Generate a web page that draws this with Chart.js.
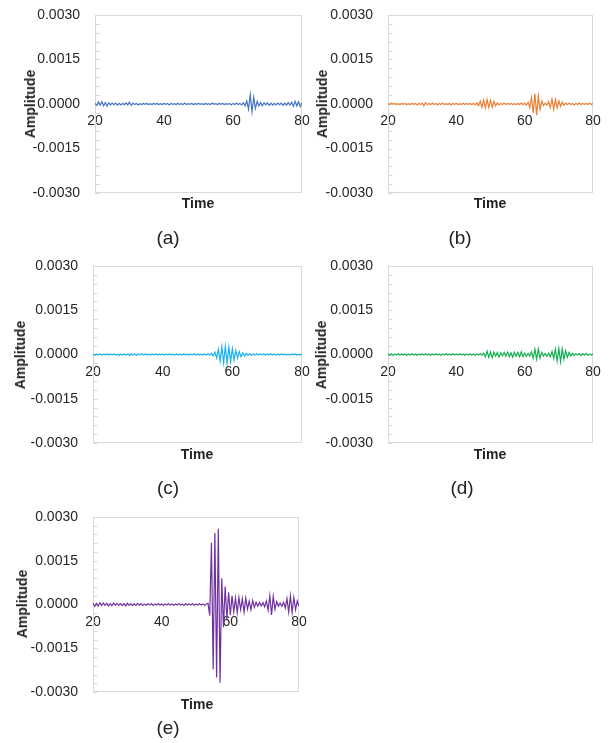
<!DOCTYPE html>
<html>
<head>
<meta charset="utf-8">
<title>Amplitude vs Time</title>
<script src="https://cdn.jsdelivr.net/npm/chart.js@4.4.1/dist/chart.umd.min.js"></script>
<style>
  html, body { margin: 0; padding: 0; background: #fff; }
  body {
    position: relative; width: 611px; height: 743px; overflow: hidden;
    font-family: "Liberation Sans", Arial, sans-serif; color: #222;
  }
  canvas { position: absolute; }
  .lbl {
    position: absolute; white-space: nowrap; line-height: 1;
    transform: translate(-50%, -50%);
  }
  .amp  { font-weight: bold; font-size: 14px; transform: translate(-50%, -50%) rotate(-90deg); }
  .time { font-weight: bold; font-size: 14px; }
  .tag  { font-size: 19px; }
</style>
</head>
<body>
<script>
/* ── Data ──────────────────────────────────────────────────────────────── */

// sample times, 0.5 apart
var TIME = [
  20, 20.5, 21, 21.5, 22, 22.5, 23, 23.5, 24, 24.5,
  25, 25.5, 26, 26.5, 27, 27.5, 28, 28.5, 29, 29.5,
  30, 30.5, 31, 31.5, 32, 32.5, 33, 33.5, 34, 34.5,
  35, 35.5, 36, 36.5, 37, 37.5, 38, 38.5, 39, 39.5,
  40, 40.5, 41, 41.5, 42, 42.5, 43, 43.5, 44, 44.5,
  45, 45.5, 46, 46.5, 47, 47.5, 48, 48.5, 49, 49.5,
  50, 50.5, 51, 51.5, 52, 52.5, 53, 53.5, 54, 54.5,
  55, 55.5, 56, 56.5, 57, 57.5, 58, 58.5, 59, 59.5,
  60, 60.5, 61, 61.5, 62, 62.5, 63, 63.5, 64, 64.5,
  65, 65.5, 66, 66.5, 67, 67.5, 68, 68.5, 69, 69.5,
  70, 70.5, 71, 71.5, 72, 72.5, 73, 73.5, 74, 74.5,
  75, 75.5, 76, 76.5, 77, 77.5, 78, 78.5, 79, 79.5,
  80
];

// (a) blue
var AMP_A = [
  0.00002, -0.00005, 0.00007, -0.00004, 0.00008, -0.00006, 0.00005, -0.00007, 0.00004, -0.00003,
  0.00003, -0.00002, 0.00003, -0.00004, 0.00002, -0.00003, 0.00002, -0.00002, 0.00004, -0.00003,
  0.00006, -0.00005, 0.00003, -0.00002, 0.00002, -0.00003, 0.00001, -0.00002, 0.00002, -0.00001,
  0.00002, -0.00002, 0.00001, -0.00002, 0.00002, -0.00001, 0.00002, -0.00002, 0.00001, -0.00002,
  0.00002, -0.00001, 0.00002, -0.00003, 0.00002, -0.00001, 0.00001, -0.00002, 0.00002, -0.00001,
  0.00001, -0.00002, 0.00003, -0.00002, 0.00001, -0.00001, 0.00002, -0.00002, 0.00001, -0.00001,
  0.00002, -0.00001, 0.00001, -0.00002, 0.00002, -0.00001, 0.00001, -0.00002, 0.00003, -0.00001,
  0.00001, -0.00002, 0.00002, -0.00001, 0.00002, -0.00002, 0.00001, -0.00001, 0.00002, -0.00003,
  0.00002, -0.00002, 0.00003, -0.00002, 0.00002, -0.00003, 0.00004, -0.00006, 0.00010, -0.00018,
  0.00032, -0.00026, 0.00022, -0.00015, 0.00009, -0.00007, 0.00005, -0.00006, 0.00004, -0.00003,
  0.00004, -0.00005, 0.00003, -0.00004, 0.00002, -0.00003, 0.00003, -0.00002, 0.00003, -0.00004,
  0.00003, -0.00004, 0.00005, -0.00004, 0.00006, -0.00008, 0.00009, -0.00007, 0.00008, -0.00009,
  0.00005
];

// (b) orange
var AMP_B = [
  0.00002, -0.00002, 0.00003, -0.00001, 0.00002, -0.00002, 0.00001, -0.00002, 0.00002, -0.00001,
  0.00002, -0.00002, 0.00001, -0.00002, 0.00002, -0.00001, 0.00002, -0.00003, 0.00002, -0.00002,
  0.00003, -0.00006, 0.00005, -0.00003, 0.00002, -0.00002, 0.00003, -0.00002, 0.00002, -0.00003,
  0.00002, -0.00002, 0.00003, -0.00002, 0.00001, -0.00002, 0.00002, -0.00003, 0.00002, -0.00001,
  0.00002, -0.00002, 0.00001, -0.00002, 0.00003, -0.00002, 0.00002, -0.00001, 0.00002, -0.00002,
  0.00002, -0.00003, 0.00004, -0.00006, 0.00010, -0.00012, 0.00014, -0.00013, 0.00015, -0.00012,
  0.00012, -0.00011, 0.00009, -0.00007, 0.00004, -0.00003, 0.00002, -0.00002, 0.00003, -0.00002,
  0.00002, -0.00001, 0.00002, -0.00002, 0.00001, -0.00002, 0.00002, -0.00002, 0.00003, -0.00002,
  0.00003, -0.00004, 0.00006, -0.00012, 0.00022, -0.00030, 0.00034, -0.00038, 0.00026, -0.00018,
  0.00010, -0.00005, 0.00003, -0.00004, 0.00008, -0.00012, 0.00016, -0.00018, 0.00015, -0.00013,
  0.00011, -0.00008, 0.00006, -0.00004, 0.00003, -0.00002, 0.00003, -0.00002, 0.00002, -0.00003,
  0.00002, -0.00002, 0.00003, -0.00002, 0.00002, -0.00001, 0.00002, -0.00002, 0.00003, -0.00002,
  0.00002
];

// (c) light blue
var AMP_C = [
  0.00001, -0.00002, 0.00002, -0.00001, 0.00002, -0.00002, 0.00001, -0.00001, 0.00002, -0.00002,
  0.00002, -0.00001, 0.00002, -0.00002, 0.00001, -0.00003, 0.00002, -0.00002, 0.00001, -0.00002,
  0.00002, -0.00004, 0.00003, -0.00002, 0.00002, -0.00003, 0.00002, -0.00002, 0.00003, -0.00002,
  0.00002, -0.00002, 0.00001, -0.00002, 0.00002, -0.00001, 0.00002, -0.00002, 0.00001, -0.00001,
  0.00002, -0.00002, 0.00001, -0.00001, 0.00002, -0.00002, 0.00001, -0.00002, 0.00002, -0.00001,
  0.00001, -0.00002, 0.00002, -0.00001, 0.00001, -0.00002, 0.00002, -0.00002, 0.00003, -0.00002,
  0.00002, -0.00002, 0.00001, -0.00002, 0.00002, -0.00002, 0.00003, -0.00002, 0.00004, -0.00005,
  0.00008, -0.00012, 0.00018, -0.00022, 0.00026, -0.00028, 0.00027, -0.00030, 0.00025, -0.00024,
  0.00020, -0.00018, 0.00014, -0.00012, 0.00010, -0.00008, 0.00006, -0.00005, 0.00004, -0.00003,
  0.00003, -0.00003, 0.00002, -0.00002, 0.00003, -0.00002, 0.00002, -0.00001, 0.00002, -0.00002,
  0.00002, -0.00002, 0.00003, -0.00002, 0.00002, -0.00002, 0.00001, -0.00002, 0.00002, -0.00001,
  0.00002, -0.00002, 0.00001, -0.00002, 0.00002, -0.00001, 0.00002, -0.00002, 0.00001, -0.00002,
  0.00001
];

// (d) green
var AMP_D = [
  0.00004, -0.00003, 0.00002, -0.00003, 0.00002, -0.00002, 0.00003, -0.00002, 0.00002, -0.00002,
  0.00002, -0.00003, 0.00002, -0.00002, 0.00003, -0.00002, 0.00002, -0.00003, 0.00002, -0.00002,
  0.00002, -0.00002, 0.00003, -0.00002, 0.00002, -0.00003, 0.00002, -0.00002, 0.00003, -0.00002,
  0.00002, -0.00003, 0.00002, -0.00002, 0.00003, -0.00002, 0.00002, -0.00002, 0.00003, -0.00002,
  0.00002, -0.00002, 0.00003, -0.00002, 0.00002, -0.00003, 0.00002, -0.00002, 0.00002, -0.00002,
  0.00002, -0.00003, 0.00002, -0.00002, 0.00003, -0.00002, 0.00004, -0.00008, 0.00011, -0.00010,
  0.00009, -0.00011, 0.00008, -0.00006, 0.00007, -0.00009, 0.00006, -0.00005, 0.00007, -0.00006,
  0.00008, -0.00007, 0.00006, -0.00009, 0.00008, -0.00006, 0.00007, -0.00008, 0.00009, -0.00007,
  0.00005, -0.00006, 0.00004, -0.00005, 0.00009, -0.00013, 0.00018, -0.00016, 0.00019, -0.00012,
  0.00007, -0.00005, 0.00004, -0.00006, 0.00005, -0.00008, 0.00010, -0.00014, 0.00018, -0.00022,
  0.00020, -0.00024, 0.00019, -0.00016, 0.00013, -0.00010, 0.00007, -0.00005, 0.00004, -0.00003,
  0.00003, -0.00002, 0.00003, -0.00004, 0.00003, -0.00002, 0.00004, -0.00003, 0.00002, -0.00002,
  0.00002
];

// (e) purple
var AMP_E = [
  0.00005, -0.00006, 0.00004, -0.00005, 0.00006, -0.00004, 0.00005, -0.00003, 0.00004, -0.00005,
  0.00003, -0.00004, 0.00005, -0.00003, 0.00004, -0.00003, 0.00003, -0.00004, 0.00003, -0.00005,
  0.00004, -0.00003, 0.00003, -0.00004, 0.00002, -0.00003, 0.00004, -0.00002, 0.00003, -0.00003,
  0.00002, -0.00003, 0.00003, -0.00002, 0.00003, -0.00003, 0.00002, -0.00002, 0.00003, -0.00002,
  0.00002, -0.00003, 0.00002, -0.00002, 0.00003, -0.00002, 0.00002, -0.00003, 0.00002, -0.00002,
  0.00003, -0.00002, 0.00002, -0.00003, 0.00003, -0.00002, 0.00002, -0.00002, 0.00003, -0.00003,
  0.00002, -0.00002, 0.00003, -0.00002, 0.00002, -0.00003, 0.00002, 0.00004, -0.00038, 0.00212,
  -0.00222, 0.00245, -0.00250, 0.00260, -0.00268, 0.00090, -0.00078, 0.00062, -0.00050, 0.00042,
  -0.00036, 0.00030, -0.00025, 0.00022, -0.00028, 0.00024, -0.00018, 0.00020, -0.00026, 0.00022,
  -0.00016, 0.00012, -0.00018, 0.00014, -0.00010, 0.00008, -0.00006, 0.00007, -0.00005, 0.00006,
  -0.00008, 0.00012, -0.00020, 0.00030, -0.00036, 0.00028, -0.00016, 0.00010, -0.00006, 0.00005,
  -0.00006, 0.00008, -0.00012, 0.00020, -0.00026, 0.00030, -0.00028, 0.00024, -0.00018, 0.00012,
  -0.00006
];

// axis ticks
var X_TICKS   = [20, 40, 60, 80];
var Y_LABELED = [-0.003, -0.0015, 0, 0.0015, 0.003];
var Y_MINOR_STEP = 0.0003;

/* ── Layout (page pixels) ──────────────────────────────────────────────── */

var YAXIS_W = 70;
var PAD = { top: 10, right: 16, bottom: 10 };

// plot box = [left, top, right, bottom]; label centres as [x, y]
var PANELS = [
  { tag: '(a)', values: AMP_A, color: '#4472C4', box: [95, 15, 302, 193],  amp: [30, 104],  time: [198, 203], tagAt: [168, 237] },
  { tag: '(b)', values: AMP_B, color: '#ED7D31', box: [388, 15, 593, 193], amp: [322, 104], time: [490, 203], tagAt: [460, 237] },
  { tag: '(c)', values: AMP_C, color: '#1AB0F0', box: [93, 266, 302, 443], amp: [20, 355],  time: [197, 454], tagAt: [168, 487] },
  { tag: '(d)', values: AMP_D, color: '#11B050', box: [388, 266, 593, 443], amp: [321, 355], time: [490, 454], tagAt: [462, 487] },
  { tag: '(e)', values: AMP_E, color: '#7030A0', box: [93, 517, 299, 692], amp: [22, 604],  time: [197, 704], tagAt: [168, 727] }
];

Chart.defaults.font.family = '"Liberation Sans", Arial, sans-serif';

/* ── Plot frame + short inside tick marks on the value axis ────────────── */

var framePlugin = {
  id: 'frame',
  beforeDatasetsDraw: function (chart) {
    var ctx = chart.ctx, a = chart.chartArea, ys = chart.scales.y;
    var l = Math.round(a.left) + 0.5, t = Math.round(a.top) + 0.5;
    var w = Math.round(a.right - a.left) - 1, h = Math.round(a.bottom - a.top) - 1;
    ctx.save();
    ctx.strokeStyle = '#d9d9d9';
    ctx.lineWidth = 1;
    ctx.strokeRect(l, t, w, h);
    ctx.beginPath();
    ys.ticks.forEach(function (tk, i) {
      var py = Math.round(ys.getPixelForTick(i)) + 0.5;
      ctx.moveTo(l, py);
      ctx.lineTo(l + 4, py);
    });
    ctx.stroke();
    ctx.restore();
  }
};

function isLabeled(v) {
  return Y_LABELED.some(function (l) { return Math.abs(l - v) < 1e-9; });
}

function addLabel(cls, text, at) {
  var d = document.createElement('div');
  d.className = 'lbl ' + cls;
  d.textContent = text;
  d.style.left = at[0] + 'px';
  d.style.top  = at[1] + 'px';
  document.body.appendChild(d);
}

PANELS.forEach(function (p) {
  var L = p.box[0], T = p.box[1], R = p.box[2], B = p.box[3];
  var cv = document.createElement('canvas');
  cv.width  = (R - L) + YAXIS_W + PAD.right;
  cv.height = (B - T) + PAD.top + PAD.bottom;
  cv.style.left = (L - YAXIS_W) + 'px';
  cv.style.top  = (T - PAD.top) + 'px';
  document.body.appendChild(cv);

  var points = TIME.map(function (t, i) { return { x: t, y: p.values[i] }; });

  new Chart(cv, {
    type: 'line',
    data: {
      datasets: [{
        data: points,
        borderColor: p.color,
        borderWidth: 1.2,
        pointRadius: 0,
        tension: 0
      }]
    },
    options: {
      responsive: false,
      animation: false,
      events: [],
      layout: { padding: { top: PAD.top, right: PAD.right, bottom: PAD.bottom, left: 0 } },
      plugins: { legend: { display: false }, tooltip: { enabled: false } },
      scales: {
        x: {
          type: 'linear',
          min: 20, max: 80,
          position: { y: 0 },
          afterBuildTicks: function (s) {
            s.ticks = X_TICKS.map(function (v) { return { value: v }; });
          },
          // tick marks hidden; their length only spaces the labels
          grid: { display: false, drawTicks: true, tickLength: 9 },
          border: { display: false },
          ticks: { font: { size: 14 }, color: '#262626', padding: 0, maxRotation: 0 }
        },
        y: {
          min: -0.003, max: 0.003,
          afterFit: function (s) { s.width = YAXIS_W; },
          grid: { display: false, drawTicks: true, tickLength: 15 },
          border: { display: false },
          ticks: {
            stepSize: Y_MINOR_STEP,
            autoSkip: false,
            maxTicksLimit: 40,
            padding: 0,
            font: { size: 14 },
            color: '#262626',
            callback: function (v) { return isLabeled(v) ? Number(v).toFixed(4) : ''; }
          }
        }
      }
    },
    plugins: [framePlugin]
  });

  addLabel('amp', 'Amplitude', p.amp);
  addLabel('time', 'Time', p.time);
  addLabel('tag', p.tag, p.tagAt);
});
</script>
</body>
</html>
